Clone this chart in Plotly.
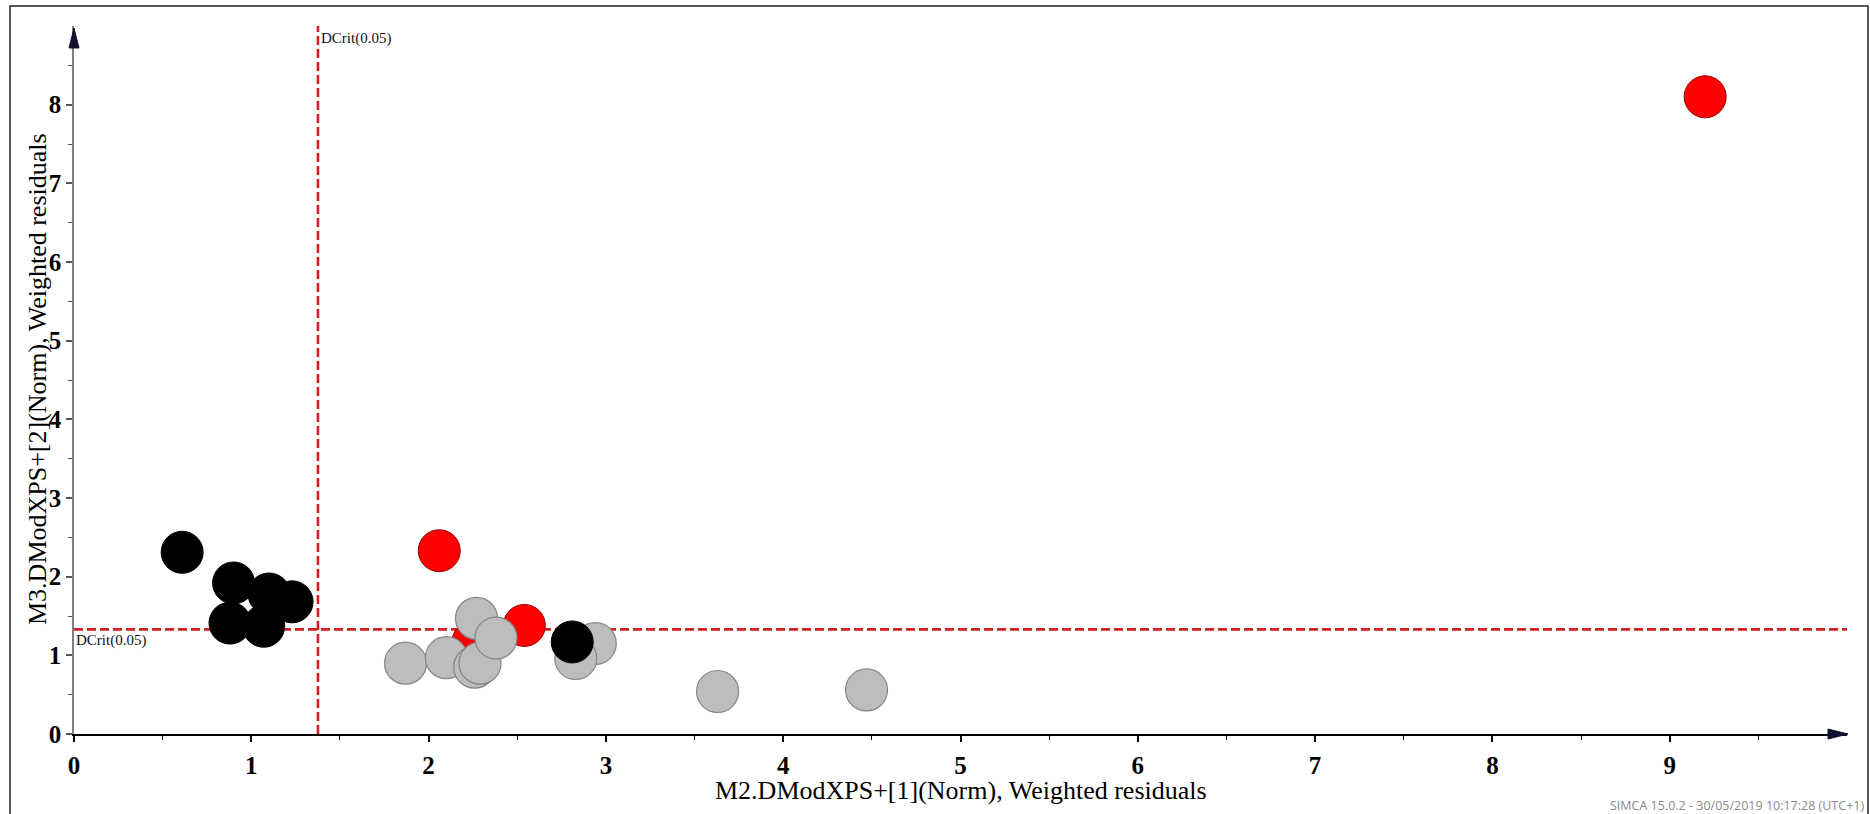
import plotly.graph_objects as go

# Observation scores: DModX of model M2 (x) against DModX of model M3 (y)
gray_x = [1.87, 2.10, 2.26, 2.29, 2.27, 2.38, 2.94, 2.83, 3.63, 4.47]
gray_y = [0.90, 0.97, 0.85, 0.90, 1.47, 1.22, 1.15, 0.96, 0.54, 0.56]

black_x = [0.61, 0.90, 1.10, 1.23, 0.88, 1.07, 2.81]
black_y = [2.31, 1.92, 1.78, 1.68, 1.41, 1.37, 1.17]

red_x = [2.25, 2.06, 2.54, 9.20]
red_y = [1.17, 2.33, 1.38, 8.10]

# Critical distances at 0.05
dcrit_x = 1.376
dcrit_y = 1.33
dcrit_label = "DCrit(0.05)"

x_ticks = [0, 1, 2, 3, 4, 5, 6, 7, 8, 9]
y_ticks = [0, 1, 2, 3, 4, 5, 6, 7, 8]
x_minor = [0.5, 1.5, 2.5, 3.5, 4.5, 5.5, 6.5, 7.5, 8.5, 9.5]
y_minor = [0.5, 1.5, 2.5, 3.5, 4.5, 5.5, 6.5, 7.5, 8.5]

x_title = "M2.DModXPS+[1](Norm), Weighted residuals"
y_title = "M3.DModXPS+[2](Norm), Weighted residuals"
footer = "SIMCA 15.0.2 - 30/05/2019 10:17:28 (UTC+1)"

W, H = 1870, 814
ML, MR, MT, MB = 74, 23, 26, 80
PW, PH = W - ML - MR, H - MT - MB


def px_x(p):
    """pixel column -> paper x"""
    return (p - ML) / PW


def px_y(p):
    """pixel row -> paper y"""
    return (H - MB - p) / PH


SERIF = "Liberation Serif, Times New Roman, serif"

fig = go.Figure()

fig.add_trace(go.Scatter(
    x=red_x, y=red_y, mode="markers", showlegend=False,
    marker=dict(size=42, color="#ff0000", line=dict(color="#9a0000", width=1)),
))
fig.add_trace(go.Scatter(
    x=gray_x, y=gray_y, mode="markers", showlegend=False,
    marker=dict(size=42, color="#bdbdbd", line=dict(color="#858585", width=1.2)),
))
fig.add_trace(go.Scatter(
    x=black_x, y=black_y, mode="markers", showlegend=False,
    marker=dict(size=42, color="#000000", line=dict(color="#000000", width=1)),
))

shapes = [
    # critical-distance lines
    dict(type="line", xref="x", yref="paper", x0=dcrit_x, x1=dcrit_x, y0=0, y1=1,
         line=dict(color="#d21f1f", width=2.6, dash="9px,4px"), layer="below"),
    dict(type="line", xref="paper", yref="y", x0=0, x1=1, y0=dcrit_y, y1=dcrit_y,
         line=dict(color="#d21f1f", width=2.6, dash="9px,4px"), layer="below"),
    # axis arrowheads
    dict(type="path", xref="paper", yref="paper",
         path=f"M {px_x(1828)},{px_y(739)} L {px_x(1848)},{px_y(734)} L {px_x(1828)},{px_y(729)} Z",
         fillcolor="#101030", line=dict(color="#101030", width=1)),
    dict(type="path", xref="paper", yref="paper",
         path=f"M {px_x(69)},{px_y(48)} L {px_x(74)},{px_y(28)} L {px_x(79)},{px_y(48)} Z",
         fillcolor="#101030", line=dict(color="#101030", width=1)),
    # outer frame
    dict(type="rect", xref="paper", yref="paper",
         x0=px_x(10), x1=px_x(1868), y0=px_y(820), y1=px_y(6),
         line=dict(color="#222222", width=1.5), fillcolor="rgba(0,0,0,0)"),
]

annotations = [
    dict(text=dcrit_label, xref="x", yref="paper", x=dcrit_x, y=1, xanchor="left",
         yanchor="top", xshift=1, yshift=-2, showarrow=False,
         font=dict(family=SERIF, size=15, color="#111111")),
    dict(text=dcrit_label, xref="paper", yref="y", x=0, y=dcrit_y, xanchor="left",
         yanchor="top", xshift=0, yshift=-1, showarrow=False,
         font=dict(family=SERIF, size=15, color="#111111")),
    dict(text=x_title, xref="paper", yref="paper", x=0.5, y=0, xanchor="center",
         yanchor="middle", yshift=-56, showarrow=False,
         font=dict(family=SERIF, size=26, color="#000000")),
    dict(text=y_title, xref="paper", yref="paper", x=0, y=0.5, xanchor="center",
         yanchor="middle", xshift=-37, yshift=1, textangle=-90, showarrow=False,
         font=dict(family=SERIF, size=26, color="#000000")),
    dict(text=footer, xref="paper", yref="paper", x=px_x(1866), y=px_y(805),
         xanchor="right", yanchor="middle", showarrow=False,
         font=dict(family="Open Sans, sans-serif", size=12.5, color="#8a8a8a")),
]

fig.update_layout(
    width=W, height=H,
    margin=dict(l=ML, r=MR, t=MT, b=MB, pad=0),
    paper_bgcolor="white", plot_bgcolor="white",
    shapes=shapes, annotations=annotations,
    xaxis=dict(
        range=[0, 10], tickvals=x_ticks, showgrid=False, zeroline=False,
        showline=True, linecolor="#000000", linewidth=2,
        ticks="outside", ticklen=6, tickwidth=1.5, tickcolor="#000000",
        ticklabelstandoff=2,
        minor=dict(tickvals=x_minor, ticks="outside", ticklen=4, tickwidth=1.2,
                   tickcolor="#000000", showgrid=False),
        tickfont=dict(family=SERIF, size=25, color="#000000", weight="bold"),
    ),
    yaxis=dict(
        range=[0, 9], tickvals=y_ticks, showgrid=False, zeroline=False,
        showline=True, linecolor="#808080", linewidth=1.5,
        ticks="outside", ticklen=6, tickwidth=1.5, tickcolor="#555555",
        minor=dict(tickvals=y_minor, ticks="outside", ticklen=4, tickwidth=1.2,
                   tickcolor="#555555", showgrid=False),
        tickfont=dict(family=SERIF, size=25, color="#000000", weight="bold"),
    ),
)

fig.write_html("out.html")
